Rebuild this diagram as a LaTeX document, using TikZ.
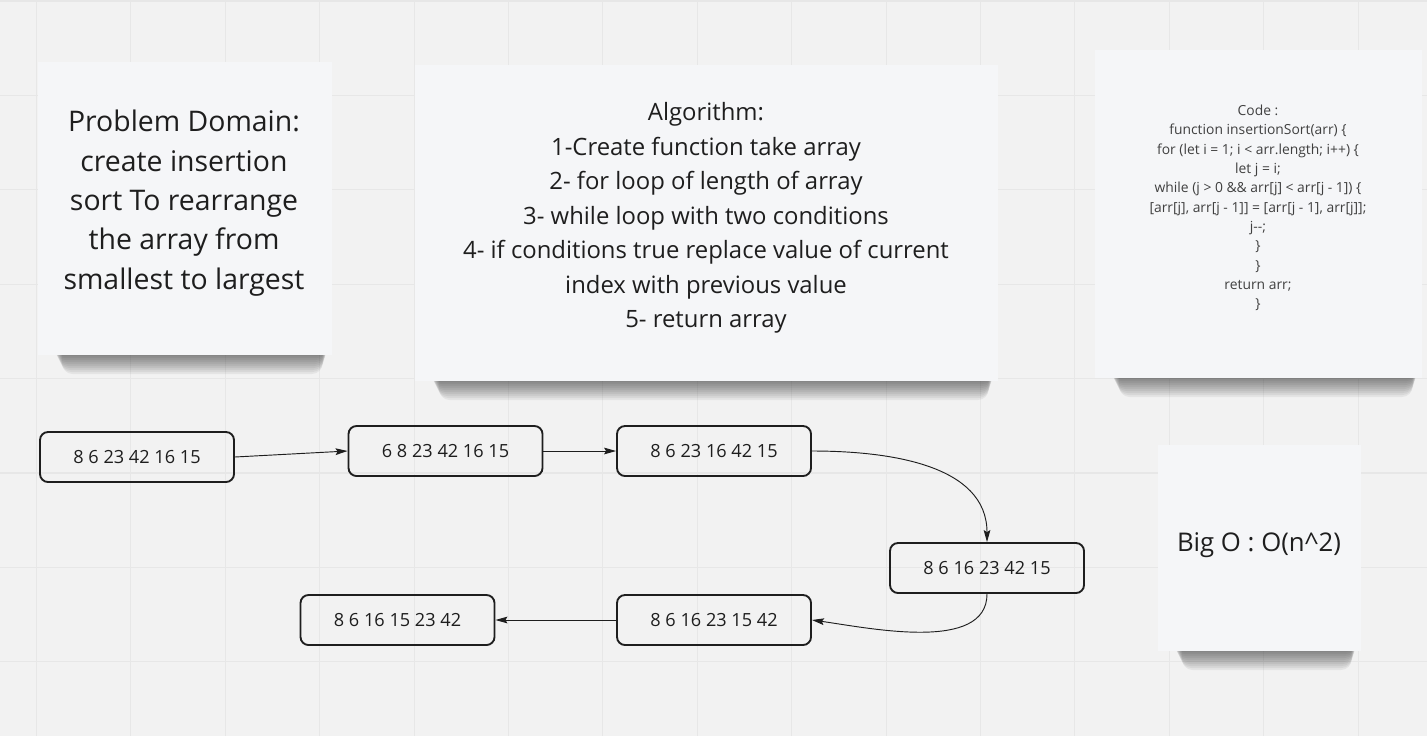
\documentclass[tikz,border=0pt]{standalone}
\usepackage{fontspec}
\setmainfont{Open Sans}
\usetikzlibrary{arrows.meta,positioning}
\definecolor{board}{HTML}{F2F2F2}
\definecolor{gridline}{HTML}{E7E7E7}
\definecolor{notefill}{HTML}{F5F6F8}
\definecolor{ink}{HTML}{1E1E1E}
\tikzset{
    cell/.style={draw=ink, line width=1.4pt, rounded corners=6pt,
        minimum width=145.5pt, minimum height=37.5pt, text=ink,
        font=\fontsize{13.6}{16}\selectfont},
    flow/.style={-{Stealth[length=9pt,width=5pt,inset=1.5pt]}, line width=0.7pt, draw=ink},
    notetext/.style={align=center, text=ink},
}
\begin{document}
\begin{tikzpicture}[x=0.75pt,y=-0.75pt]
    \useasboundingbox (0,0) rectangle (1427,736);
    \fill[board] (0,0) rectangle (1427,736);
    \foreach \g in {0,...,14} {
        \draw[gridline, line width=0.8pt] (36.5+94.4*\g,0) -- (36.5+94.4*\g,736);
    }
    \foreach \g in {0,...,7} {
        \draw[gridline, line width=0.8pt] (0,1+94.4*\g) -- (1427,1+94.4*\g);
    }
    % sticky notes with their shadows
    \foreach \xa/\ya/\xb/\yb in {38/62/332/355, 415/65/998/381, 1095/50/1422/378, 1158/445/1361/651} {
        \foreach \i in {0,...,9} {
            \fill[black, opacity=0.055, rounded corners=8] (\xa+15+\i,\yb-12) rectangle (\xb-4-0.6*\i,\yb+1+2*\i);
        }
        \fill[notefill] (\xa,\ya) rectangle (\xb,\yb);
    }
    \node[notetext, font=\fontsize{21.3}{29.5}\selectfont] (domain) at (184,203)
        {Problem Domain:\\create insertion\\sort To rearrange\\the array from\\smallest to largest};
    \node[notetext, font=\fontsize{17.9}{25.9}\selectfont] (algo) at (706,218)
        {Algorithm:\\1-Create function take array\\2- for loop of length of array\\3- while loop with two conditions\\4- if conditions true replace value of current\\index with previous value\\5- return array};
    \node[notetext, font=\fontsize{10.4}{14.5}\selectfont, text=ink!85] (code) at (1258,208)
        {Code :\\function insertionSort(arr) \{\\for (let i = 1; i < arr.length; i++) \{\\let j = i;\\while (j > 0 \&\& arr[j] < arr[j - 1]) \{\\{}[arr[j], arr[j - 1]] = [arr[j - 1], arr[j]];\\j-{}-;\\\}\\\}\\return arr;\\\}};
    \node[notetext, font=\fontsize{19.3}{22}\selectfont] (bigo) at (1259,545) {Big O : O(n\^{}2)};

    % the steps of the sort
    \node[cell] (s1) at (137,457) {8 6 23 42 16 15};
    \node[cell] (s2) at (445.5,451) {6 8 23 42 16 15};
    \node[cell] (s3) at (714,451) {8 6 23 16 42 15};
    \node[cell] (s4) at (987,568) {8 6 16 23 42 15};
    \node[cell] (s5) at (714,620) {8 6 16 23 15 42};
    \node[cell] (s6) at (397.5,620) {8 6 16 15 23 42};
    \draw[flow] (s1.east) -- (s2.west);
    \draw[flow] (s2.east) -- (s3.west);
    \draw[flow] (s3.east) to[out=0,in=90] (s4.north);
    \draw[flow] (s4.south) to[out=-90,in=-8,looseness=0.85] (s5.east);
    \draw[flow] (s5.west) -- (s6.east);
\end{tikzpicture}
\end{document}
